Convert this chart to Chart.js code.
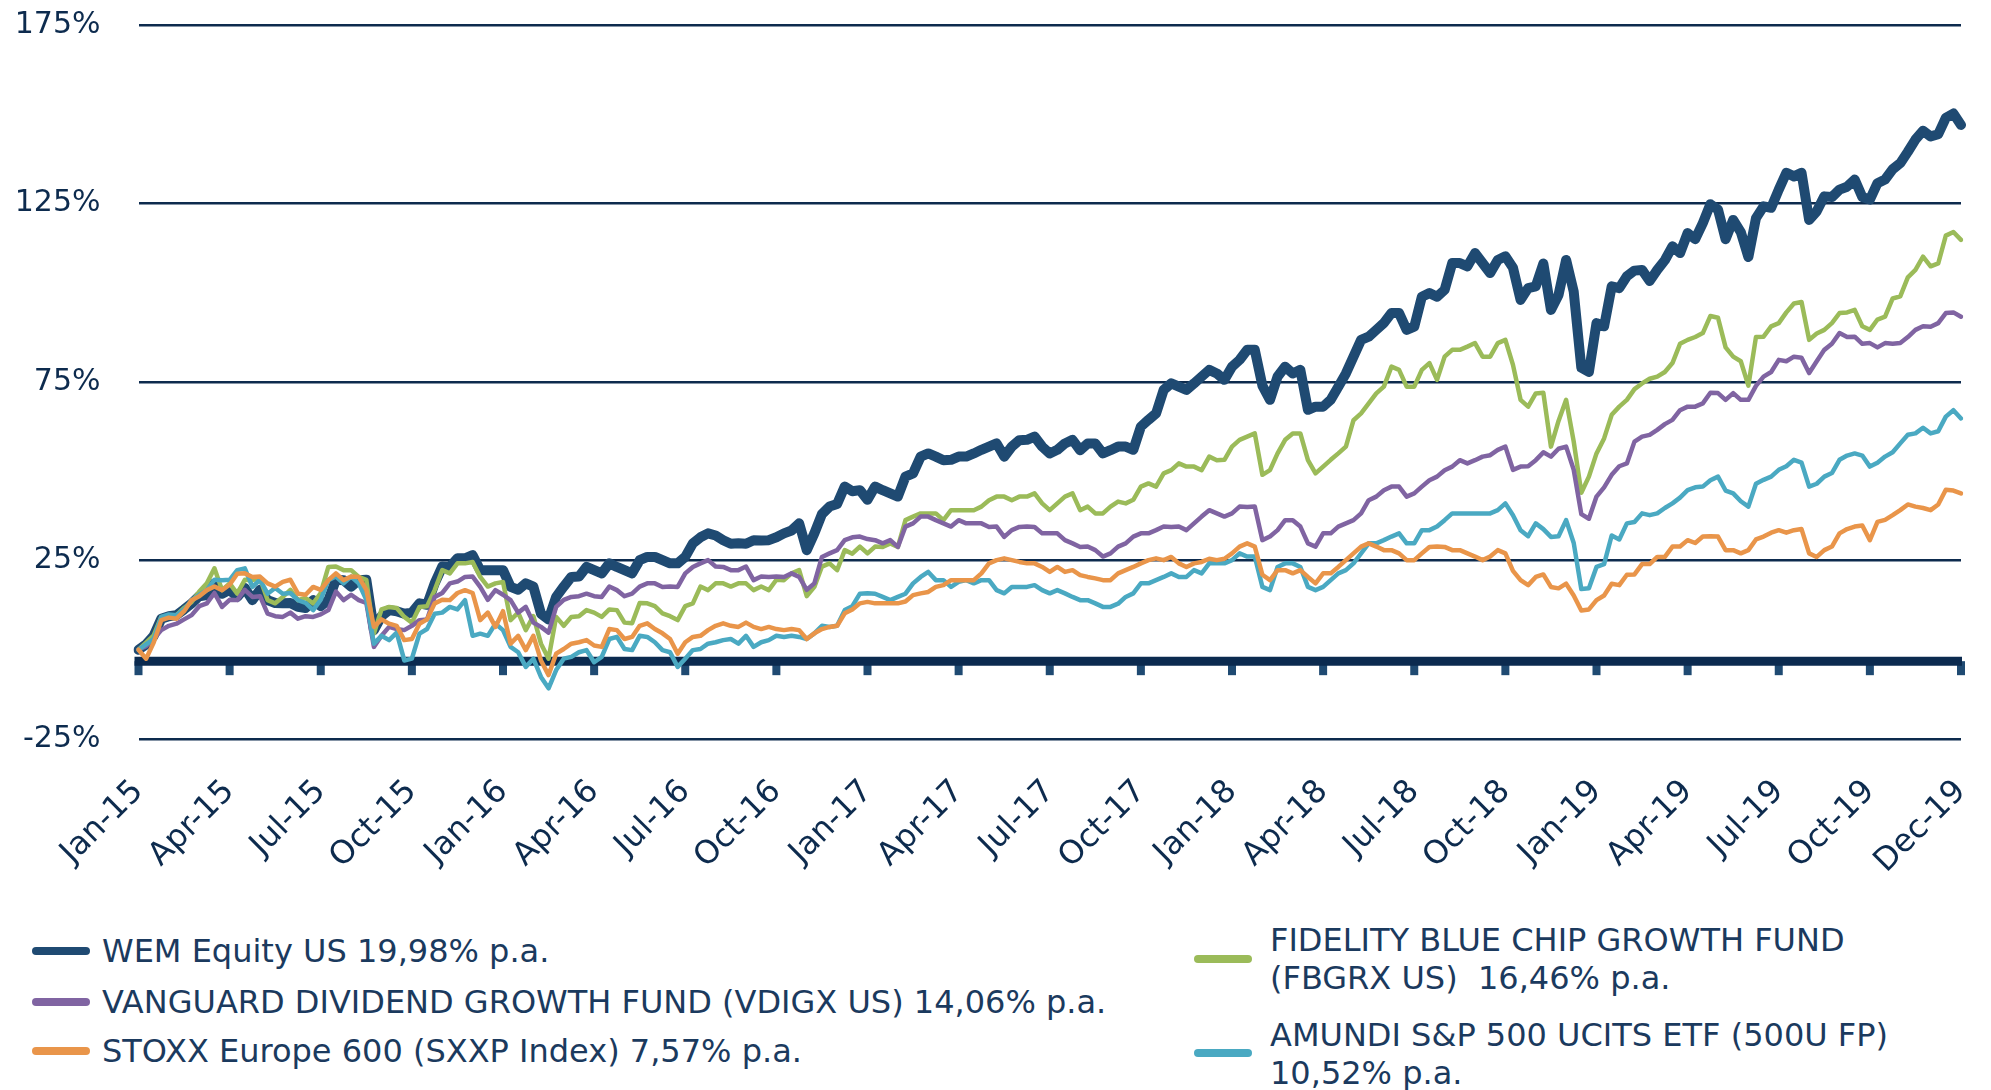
<!DOCTYPE html>
<html>
<head>
<meta charset="utf-8">
<script src="https://cdn.jsdelivr.net/npm/chart.js@4.4.1/dist/chart.umd.min.js"></script>
<style>
  body { margin: 0; background: #fff; width: 1991px; height: 1090px; overflow: hidden; font-family: "DejaVu Sans", sans-serif; }
  #wrap { position: absolute; left: 0; top: 0; width: 1991px; height: 900px; }
  .item { position: absolute; color: #1b3a5e; font-size: 32px; line-height: 38px; white-space: pre; }
  .swatch { position: absolute; width: 58px; height: 8px; border-radius: 4px; }
</style>
</head>
<body>
<div id="wrap"><canvas id="performanceChart" width="1991" height="900"></canvas></div>
<div id="legend"></div>
<script>
// quarterly tick labels, 12 samples (about weekly) between two labels
const tickLabels = ['Jan-15', 'Apr-15', 'Jul-15', 'Oct-15', 'Jan-16', 'Apr-16', 'Jul-16', 'Oct-16',
  'Jan-17', 'Apr-17', 'Jul-17', 'Oct-17', 'Jan-18', 'Apr-18', 'Jul-18', 'Oct-18',
  'Jan-19', 'Apr-19', 'Jul-19', 'Oct-19', 'Dec-19'];
const stepsPerTick = 12;

const seriesNames = [
  'WEM Equity US 19,98% p.a.',
  'FIDELITY BLUE CHIP GROWTH FUND\n(FBGRX US)  16,46% p.a.',
  'VANGUARD DIVIDEND GROWTH FUND (VDIGX US) 14,06% p.a.',
  'AMUNDI S&P 500 UCITS ETF (500U FP)\n10,52% p.a.',
  'STOXX Europe 600 (SXXP Index) 7,57% p.a.'
];

// cumulative performance in %
const wemEquity = [
  0, 1.5, 3.9, 8.7, 9.4, 9.7, 11.3, 13, 15, 15.3, 18.6, 15.7, 16.8, 14.8, 17.3, 13.9, 16.8, 13.9, 13.1, 13,
  13.1, 12, 11.7, 13.9, 12.2, 13.9, 19.6, 19.5, 17.7, 19.5, 19.6, 5.5, 9.4, 11.1, 10.8, 10.1, 10.4, 13, 12.6, 18.6,
  23.3, 23.2, 25.6, 25.6, 26.5, 22.3, 22.3, 22.3, 22.3, 17.6, 16.8, 18.6, 17.7, 10.1, 8.5, 14.8, 17.7, 20.4, 20.5, 23.2,
  22.3, 21.4, 24.2, 23.2, 22.3, 21.4, 25.1, 26, 26, 25.1, 24.2, 24.2, 26, 29.8, 31.5, 32.6, 32, 30.7, 29.7, 29.8,
  29.7, 30.7, 30.6, 30.7, 31.5, 32.6, 33.4, 35.4, 27.9, 32.6, 38, 40.1, 40.8, 45.7, 44.4, 44.7, 42, 45.7, 44.7, 43.8,
  42.9, 48.5, 49.4, 54.1, 55, 54.1, 53.1, 53.2, 54.1, 54.1, 55, 56, 56.9, 57.8, 54.1, 56.9, 58.7, 58.8, 59.7, 56.9,
  55, 56, 57.8, 58.8, 55.9, 57.8, 57.8, 55, 55.9, 56.9, 56.9, 56, 62.5, 64.4, 66.2, 72.8, 74.6, 73.7, 72.8, 74.6,
  76.5, 78.4, 77.4, 75.6, 79.3, 81.2, 84, 84, 74, 70, 76.5, 79.3, 77.4, 78.4, 67.2, 68.1, 68.1, 70, 73.7, 77.4,
  82.1, 86.8, 87.7, 89.6, 91.5, 94.3, 94.3, 89.6, 90.5, 98.9, 99.9, 98.9, 100.8, 108.3, 108.3, 107.4, 111.1, 108.3, 105.5, 109.2,
  110.2, 107, 98, 101.3, 101.8, 108.2, 95.2, 99.4, 109.2, 100.3, 79, 77.8, 91.5, 90.6, 101.8, 101.3, 104.6, 106.2, 106.4, 103.3,
  106.4, 109.1, 113, 111.1, 116.7, 115, 119.5, 124.8, 123.3, 115, 120.4, 117, 110, 120.9, 124.2, 123.8, 128.9, 133.6, 132.6, 133.6,
  120.4, 122.8, 127, 126.8, 128.9, 129.7, 131.7, 126.8, 126.1, 130.7, 131.7, 134.6, 136.3, 139.5, 142.9, 145.4, 143.8, 144.4, 149, 150.2,
  147];
const fidelity = [
  0, 2, 4, 9.2, 9, 9.7, 11.7, 13.4, 16.3, 18.6, 22.8, 16.7, 18.6, 15.7, 19.6, 19.5, 20, 13.9, 13, 14.8,
  16.8, 13.9, 14.5, 13, 15.9, 23.2, 23.3, 22.3, 22.3, 20.4, 19.6, 4.5, 11.3, 12, 11.7, 9.2, 7.6, 12, 12.2, 16.7,
  22.3, 21.4, 24.2, 24.2, 24.6, 20.4, 17.7, 18.6, 19, 8.3, 10.4, 5.5, 9.4, 1.7, -2.5, 9.2, 6.7, 9.2, 9.4, 11.1,
  10.4, 9.2, 11.3, 11.1, 7.6, 7.4, 13.1, 13, 12.2, 10.2, 9.4, 8.3, 12.2, 13, 17.7, 16.7, 18.6, 18.6, 17.7, 18.6,
  18.6, 16.7, 17.7, 16.7, 19.6, 19.5, 21.4, 22.3, 15, 17.6, 23.3, 24.2, 22.3, 27.9, 26.9, 28.9, 27, 28.9, 28.8, 29.8,
  28.8, 36.3, 37.3, 38.2, 38.2, 38.2, 36.3, 39.1, 39.1, 39.1, 39.1, 40.1, 41.9, 42.9, 42.9, 41.9, 42.9, 42.9, 43.8, 41,
  39.1, 41, 42.9, 43.8, 39.1, 40.1, 38.2, 38.2, 40.1, 41.5, 41, 42, 45.7, 46.6, 45.7, 49.4, 50.3, 52.2, 51.3, 51.3,
  50.3, 54.1, 53.1, 53.2, 56.9, 58.8, 59.7, 60.6, 49, 50.3, 55, 58.8, 60.6, 60.6, 53.1, 49.4, 51.3, 53.2, 55, 56.9,
  64.3, 66.2, 69, 71.8, 73.7, 79.3, 78.4, 73.7, 73.7, 78.4, 80.3, 75.6, 82.1, 84, 84, 84.9, 85.9, 82.1, 82.1, 85.9,
  86.8, 79.8, 70, 68.1, 71.8, 72, 56.9, 64.1, 70, 58.3, 44, 48.5, 55, 59.2, 65.8, 68.1, 70, 73, 74.6, 75.9,
  76.5, 77.8, 80.3, 85.7, 86.8, 87.6, 88.7, 93.5, 93, 84.7, 82.1, 80.8, 74, 87.6, 87.7, 90.6, 91.5, 94.5, 97, 97.4,
  86.8, 88.6, 89.6, 91.5, 94.3, 94.5, 95.2, 90.6, 89.6, 92.5, 93.3, 98.4, 99, 104.3, 106.4, 110.1, 107.4, 108.2, 116, 117,
  114.8];
const vanguard = [
  0, 1, 3, 5.5, 6.7, 7.3, 8.5, 9.7, 12.2, 13, 15.9, 12, 14, 13.9, 16.8, 14.8, 15, 10.1, 9.4, 9.2,
  10.4, 8.7, 9.4, 9.2, 9.9, 11.1, 16.3, 13.9, 15.4, 13.9, 13.1, 0.8, 3.9, 6.4, 5.8, 5.5, 6.7, 8.3, 8.5, 14.8,
  15.9, 18.6, 19.1, 20.4, 20.5, 17.6, 14, 16.7, 15.4, 13.9, 10.4, 12, 7.6, 6.4, 4.8, 12, 14, 14.8, 15, 15.7,
  15, 14.8, 17.7, 16.7, 15, 15.7, 17.7, 18.6, 18.6, 17.6, 17.7, 17.6, 21.4, 23.2, 24.2, 25.1, 23.3, 23.2, 22.3, 22.3,
  23.3, 19.5, 20.5, 20.4, 20.5, 20.4, 21.4, 20.4, 16.8, 18.6, 26, 27, 27.9, 30.7, 31.5, 31.7, 31, 30.7, 29.8, 30.7,
  28.8, 34.5, 35.4, 37.3, 37.3, 36.3, 35.4, 34.5, 36.3, 35.4, 35.4, 35.4, 34.4, 34.5, 31.6, 33.5, 34.4, 34.5, 34.4, 32.6,
  32.6, 32.6, 30.7, 29.8, 28.8, 28.9, 27.9, 26.1, 27, 28.9, 29.8, 31.7, 32.6, 32.6, 33.5, 34.5, 34.4, 34.5, 33.5, 35.4,
  37.3, 39.1, 38.2, 37.3, 38.2, 40.1, 40, 40.1, 30.7, 31.7, 33.5, 36.3, 36.3, 34.5, 29.8, 28.9, 32.6, 32.6, 34.5, 35.4,
  36.3, 38.2, 41.9, 42.9, 44.7, 45.7, 45.7, 42.9, 43.8, 45.7, 47.5, 48.5, 50.3, 51.3, 53.1, 52.2, 53.1, 54.1, 54.5, 56,
  56.9, 50.4, 51.3, 51.4, 53.1, 55.3, 54.1, 56.3, 56.9, 50.4, 38, 36.7, 42.9, 45.5, 49, 51.4, 52.2, 58.3, 59.7, 60.2,
  61.6, 63.2, 64.4, 67.1, 68.1, 68.1, 69, 72, 71.9, 70, 71.9, 70, 70, 73.9, 76.5, 77.8, 81.2, 80.8, 82.1, 81.8,
  77.5, 80.8, 84, 85.7, 88.7, 87.6, 87.7, 85.7, 85.9, 84.7, 85.9, 85.7, 85.9, 87.6, 89.6, 90.6, 90.5, 91.5, 94.3, 94.5,
  93.3];
const amundi = [
  0, 1.5, 3, 9.2, 9.9, 9.7, 11.3, 13.9, 15.4, 16.7, 19.6, 19.5, 19.6, 22.3, 22.8, 17.6, 19.6, 15.7, 17.3, 15.7,
  15.9, 13.9, 13.1, 11.1, 14, 19.5, 20.5, 18.6, 20.5, 18.6, 14, 1.7, 3.9, 2.7, 4.8, -3, -2.5, 4.5, 5.8, 10.1,
  10.4, 12, 11.3, 13.9, 3.9, 4.5, 3.9, 7.3, 5.5, 0.8, -0.7, -4.8, -2.5, -7.6, -10.8, -5.7, -2.5, -2, -0.7, -0.1,
  -3.5, -2, 3, 3.6, 0.2, -0.1, 3.9, 3.6, 2.1, -0.1, -0.7, -4.8, -2.5, -0.1, 0.2, 1.7, 2.1, 2.7, 3, 1.7,
  3.9, 0.8, 2.1, 2.7, 3.9, 3.6, 3.9, 3.6, 3, 4.6, 6.7, 6.4, 6.7, 11.1, 12.2, 15.7, 15.8, 15.7, 14.8, 13.9,
  14.8, 15.7, 18.6, 20.4, 21.8, 19.5, 19.5, 17.6, 19, 19.5, 18.6, 19.5, 19.5, 16.7, 15.8, 17.6, 17.6, 17.6, 18.1, 16.7,
  15.8, 16.7, 15.8, 14.8, 13.9, 13.9, 13, 12, 12, 12.9, 14.8, 15.8, 18.6, 18.6, 19.5, 20.4, 21.4, 20.4, 20.4, 22.3,
  21.4, 24.2, 24.2, 24.2, 25.1, 27, 26.1, 26.1, 17.6, 16.7, 23.2, 24.2, 24.2, 23.2, 17.6, 16.7, 17.6, 19.5, 21.4, 22.3,
  24.2, 27, 29.8, 29.8, 30.7, 31.7, 32.6, 29.8, 29.8, 33.5, 33.5, 34.5, 36.3, 38.2, 38.2, 38.2, 38.2, 38.2, 38.2, 39.1,
  41, 37.7, 33.5, 31.8, 35.4, 33.8, 31.6, 31.8, 36.3, 29.9, 17, 17.2, 23.2, 24, 32, 30.9, 35.4, 35.8, 38.2, 37.7,
  38.2, 39.7, 41, 42.6, 44.7, 45.5, 45.7, 47.5, 48.5, 44.6, 43.8, 41.6, 40.1, 46.5, 47.6, 48.5, 50.4, 51.4, 53.2, 52.4,
  45.7, 46.5, 48.5, 49.5, 53.2, 54.4, 55, 54.4, 51.3, 52.4, 54.1, 55.3, 57.8, 60.2, 60.6, 62.2, 60.6, 61.2, 65.3, 67.1,
  64.8];
const stoxx = [
  0, -2.5, 2, 8.3, 9, 8.7, 10.8, 13.9, 15, 16.7, 17.7, 16.7, 18.2, 21.3, 21.4, 20.4, 20.5, 18.6, 17.7, 19,
  19.6, 15.7, 15.4, 17.6, 16.8, 19.5, 21.4, 19.5, 20.5, 20.4, 16.8, 6.4, 8.5, 7.3, 6.7, 2.7, 3, 7.3, 8.5, 13,
  14, 13.9, 15.9, 16.7, 15.9, 8.3, 10.4, 6.4, 10.8, 1.7, 3.9, -0.1, 3.9, -3, -7.1, -1.1, 0.2, 1.7, 2.1, 2.7,
  1.2, 0.8, 5.8, 5.5, 3, 3.6, 6.7, 7.4, 5.8, 4.6, 3, -1.1, 2.1, 3.6, 3.9, 5.5, 6.7, 7.4, 6.7, 6.4,
  7.6, 6.4, 5.8, 6.4, 5.8, 5.5, 5.8, 5.5, 3, 4.6, 5.8, 6.4, 6.7, 10.2, 11.3, 13, 13.4, 13, 13, 13,
  13, 13.5, 15.3, 15.8, 16.2, 17.6, 18.1, 19.5, 19.5, 19.5, 19.5, 21.4, 24.2, 25.1, 25.6, 25.1, 24.6, 24.2, 24.2, 23.2,
  21.8, 23.2, 21.8, 22.3, 20.9, 20.4, 20, 19.5, 19.5, 21.4, 22.3, 23.2, 24.2, 25.1, 25.6, 25.1, 26, 24.2, 23.2, 24.2,
  24.6, 25.5, 25.1, 25.5, 27, 28.9, 29.8, 28.9, 21, 19.5, 22.3, 22.3, 21.4, 22.3, 20.4, 18.6, 21.4, 21.4, 23.2, 25.1,
  27, 28.9, 29.8, 28.9, 27.9, 27.9, 27, 25.1, 25.1, 27, 28.8, 28.9, 28.8, 27.9, 27.9, 27, 26.1, 25.1, 26.1, 27.9,
  27, 22.1, 19.5, 18.1, 20.4, 21.1, 17.6, 17.2, 18.5, 15.2, 11, 11.3, 13.9, 15.2, 18.5, 18.1, 21, 21.1, 24, 24,
  26, 26, 28.9, 28.9, 30.7, 29.9, 31.7, 31.8, 31.7, 27.9, 27.9, 27, 27.9, 30.9, 31.7, 32.8, 33.5, 32.8, 33.5, 33.8,
  27, 26, 27.9, 28.9, 32.6, 33.8, 34.5, 34.8, 30.7, 35.8, 36.4, 37.7, 39.1, 40.7, 40.1, 39.7, 39.1, 40.7, 44.8, 44.6,
  43.8];

const axisLineValue = -3.2;

const categories = [];
tickLabels.forEach((label, k) => {
  categories.push(label);
  if (k < tickLabels.length - 1) {
    for (let s = 1; s < stepsPerTick; s++) categories.push('');
  }
});

const navy = '#0d2b4e';
const colors = ['#1f4a72', '#9bbb59', '#8064a2', '#4aa9c2', '#e9954a'];
const values = [wemEquity, fidelity, vanguard, amundi, stoxx];
const widths = [10, 4.5, 4.5, 4.5, 4.5];
const drawOrder = [5, 4, 3, 2, 1];

const axisLinePlugin = {
  id: 'axisLine',
  beforeDatasetsDraw(chart) {
    const { ctx, chartArea, scales: { x, y } } = chart;
    const yPix = y.getPixelForValue(axisLineValue);
    ctx.save();
    ctx.fillStyle = '#1f4a72';
    for (let i = 0; i < categories.length; i += stepsPerTick) {
      const xp = x.getPixelForValue(i);
      ctx.fillRect(xp - 4, yPix, 8, 14);
    }
    ctx.strokeStyle = '#0b2a4f';
    ctx.lineWidth = 9;
    ctx.beginPath();
    ctx.moveTo(chartArea.left - 4, yPix);
    ctx.lineTo(chartArea.right + 1, yPix);
    ctx.stroke();
    ctx.restore();
  }
};

const noPad = scale => {
  scale.paddingTop = 0;
  scale.paddingBottom = 0;
  scale.paddingLeft = 0;
  scale.paddingRight = 0;
};

const chart = new Chart(document.getElementById('performanceChart'), {
  type: 'line',
  data: {
    labels: categories,
    datasets: values.map((data, i) => ({
      label: seriesNames[i],
      data: data,
      borderColor: colors[i],
      backgroundColor: colors[i],
      borderWidth: widths[i],
      pointRadius: 0,
      tension: 0,
      borderJoinStyle: 'round',
      borderCapStyle: 'round',
      order: drawOrder[i]
    }))
  },
  options: {
    responsive: false,
    animation: false,
    layout: { padding: { top: 25, right: 30, left: 0, bottom: 0 } },
    plugins: { legend: { display: false }, tooltip: { enabled: false } },
    scales: {
      x: {
        grid: { display: false, drawTicks: false },
        border: { display: false },
        ticks: {
          autoSkip: false,
          maxRotation: 45,
          minRotation: 45,
          padding: 34,
          color: navy,
          font: { family: 'DejaVu Sans', size: 32 }
        },
        afterFit: scale => { scale.height = 161; noPad(scale); }
      },
      y: {
        min: -25,
        max: 175,
        ticks: {
          stepSize: 50,
          padding: 38,
          color: navy,
          font: { family: 'DejaVu Sans', size: 30 },
          callback: v => v + '%'
        },
        grid: { color: navy, lineWidth: 2.5, drawTicks: false },
        border: { display: false },
        afterFit: scale => { scale.width = 138.5; noPad(scale); }
      }
    }
  },
  plugins: [axisLinePlugin]
});

// legend below the chart, two columns
const legendSpots = [
  { left: 32, center: 951 },
  { left: 1194, center: 959, textTop: 921 },
  { left: 32, center: 1002 },
  { left: 1194, center: 1053, textTop: 1016 },
  { left: 32, center: 1051 }
];
const legend = document.getElementById('legend');
seriesNames.forEach((name, i) => {
  const spot = legendSpots[i];
  const sw = document.createElement('div');
  sw.className = 'swatch';
  sw.style.left = spot.left + 'px';
  sw.style.top = (spot.center - 4) + 'px';
  sw.style.background = colors[i];
  legend.appendChild(sw);
  const txt = document.createElement('div');
  txt.className = 'item';
  txt.style.left = (spot.left + (spot.textTop !== undefined ? 76 : 70)) + 'px';
  txt.style.top = (spot.textTop !== undefined ? spot.textTop : spot.center - 19) + 'px';
  txt.textContent = name;
  legend.appendChild(txt);
});
</script>
</body>
</html>
